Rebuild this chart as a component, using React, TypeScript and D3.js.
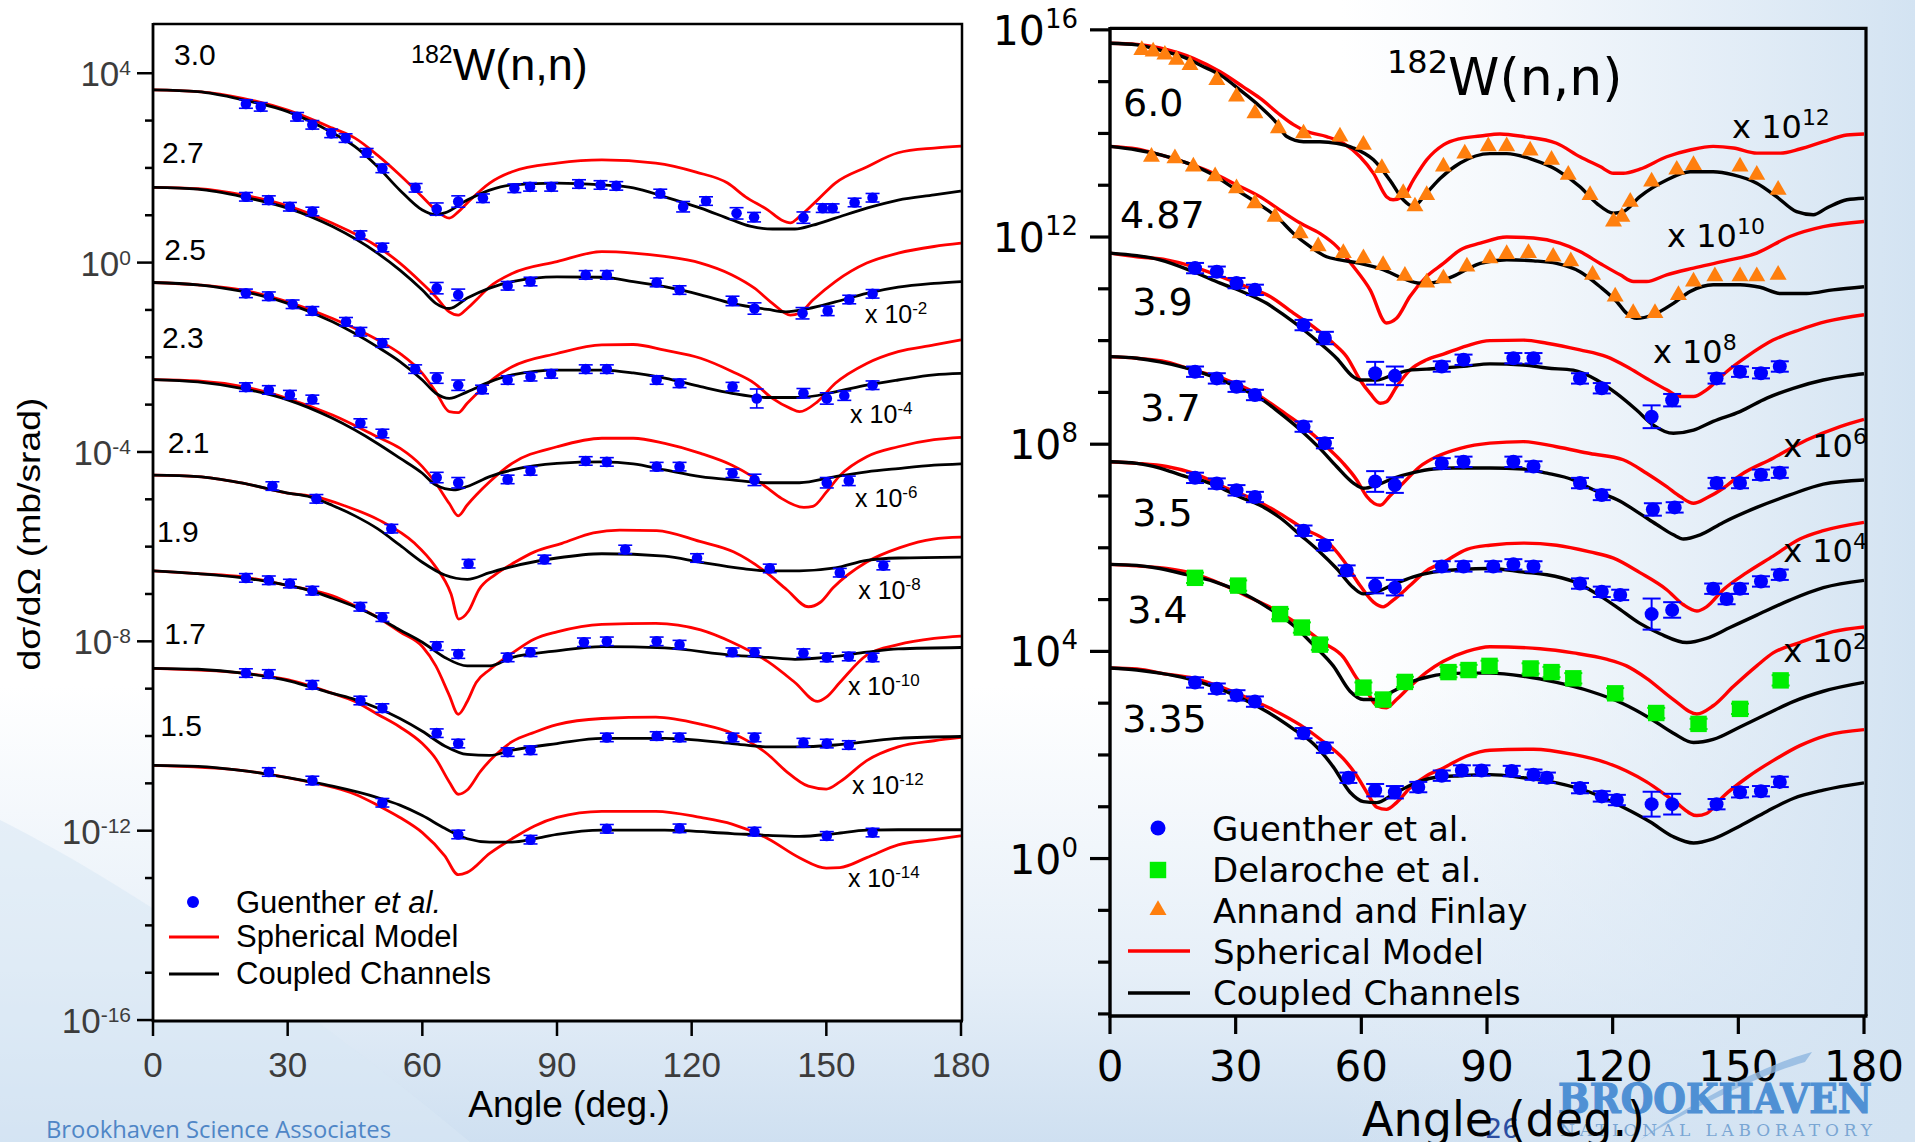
import React from "react";
import * as d3 from "d3";

type P = [number, number];
type D = [number, number] | [number, number, number];

// ---------------- LEFT PANEL DATA: log10 dσ/dΩ (mb/sr), unscaled ----------------
const leftEnergies = ["3.0", "2.7", "2.5", "2.3", "2.1", "1.9", "1.7", "1.5"];
const leftScaleExp = [0, -2, -4, -6, -8, -10, -12, -14];

const cc30: P[] = [[0,3.65],[10,3.61],[20,3.44],[30,3.19],[40,2.74],[45,2.45],[50,2.03],[55,1.53],[60,1.11],[63,1.01],[65,1.05],[70,1.32],[75,1.53],[80,1.64],[90,1.68],[100,1.64],[107,1.58],[114,1.39],[122,1.15],[129,0.9],[133,0.77],[138,0.71],[143,0.71],[147,0.79],[152,0.94],[159,1.15],[166,1.32],[174,1.43],[180,1.51]];
const sph30: P[] = [[0,3.65],[10,3.61],[20,3.47],[30,3.22],[40,2.84],[45,2.63],[50,2.27],[55,1.85],[60,1.39],[63,1.11],[66,0.94],[68,1.07],[70,1.26],[75,1.68],[80,1.92],[90,2.1],[100,2.17],[112,2.1],[121,1.91],[128,1.68],[132,1.39],[137,1.11],[140,0.9],[142,0.84],[144,0.97],[148,1.32],[152,1.68],[159,2.02],[166,2.32],[174,2.42],[180,2.46]];
const exp30: D[] = [[20.7,3.35],[24,3.29],[32.1,3.08],[35.5,2.91],[39.7,2.73],[42.9,2.63],[47.6,2.32],[51.1,1.99],[58.5,1.58],[63.2,1.13,0.13],[68,1.29,0.12],[73.5,1.36],[80.5,1.57],[84,1.6],[88.7,1.6],[94.9,1.66],[99.7,1.64],[103.2,1.62],[113,1.46],[118.1,1.18,0.11],[123.2,1.3],[130,1.04,0.12],[133.9,0.96,0.1],[144.9,0.95,0.12],[149.2,1.15],[151.4,1.15],[156.3,1.27],[160.3,1.37]];

const cc27: P[] = [[0,3.59],[10,3.55],[20,3.39],[30,3.15],[40,2.76],[50,2.2],[55,1.84],[60,1.42],[63,1.14],[66,1.03],[70,1.25],[75,1.46],[80,1.6],[90,1.7],[100,1.69],[107,1.6],[114,1.49],[122,1.32],[129,1.14],[137,1.01],[141,0.96],[146,1.03],[152,1.17],[159,1.35],[166,1.48],[174,1.56],[180,1.6]];
const sph27: P[] = [[0,3.59],[10,3.56],[20,3.43],[30,3.2],[40,2.83],[50,2.34],[55,1.99],[60,1.56],[63,1.28],[66,0.96],[68,0.89],[70,1.03],[72,1.21],[75,1.49],[80,1.77],[90,2.02],[100,2.23],[107,2.2],[114,2.13],[122,1.99],[129,1.74],[134,1.46],[138,1.14],[142,0.89],[144,0.93],[147,1.21],[152,1.6],[159,1.99],[166,2.2],[174,2.34],[180,2.41]];
const exp27: D[] = [[20.7,3.39],[25.8,3.32],[30.5,3.18],[35.5,3.08],[46.2,2.58],[51.1,2.32],[63.2,1.46,0.12],[68,1.32,0.12],[79,1.51],[84.1,1.6],[96.4,1.74],[101.1,1.74],[112.2,1.58],[117.3,1.42],[129.1,1.19,0.1],[134,1.03,0.12],[144.7,0.93,0.12],[150.3,0.98,0.1],[155.1,1.22],[160.3,1.34]];

const cc25: P[] = [[0,3.58],[10,3.53],[20,3.39],[30,3.14],[40,2.75],[50,2.22],[55,1.91],[60,1.52],[63,1.24],[66,1.13],[70,1.27],[75,1.48],[80,1.63],[90,1.73],[100,1.73],[107,1.67],[114,1.56],[122,1.38],[129,1.24],[137,1.15],[144,1.15],[152,1.27],[159,1.41],[166,1.52],[174,1.63],[180,1.66]];
const sph25: P[] = [[0,3.58],[10,3.53],[20,3.42],[30,3.17],[40,2.82],[50,2.37],[55,2.08],[60,1.66],[63,1.27],[66,0.85],[68,0.83],[70,1.03],[73,1.31],[76,1.56],[80,1.8],[90,2.08],[100,2.26],[107,2.27],[114,2.15],[122,1.98],[129,1.7],[134,1.45],[138,1.13],[142,0.92],[144,0.85],[148,1.06],[152,1.45],[159,1.87],[166,2.12],[174,2.26],[180,2.37]];
const exp25: D[] = [[20.7,3.35],[25.8,3.29],[31.1,3.12],[35.5,2.98],[43,2.75],[46.2,2.54],[51.1,2.3],[58.4,1.75],[63.2,1.56,0.11],[68,1.41,0.11],[73.3,1.32],[79,1.52],[84.1,1.59],[88.7,1.65],[96.4,1.75],[101.1,1.75],[112.2,1.52],[117.3,1.45],[129.1,1.38],[134.5,1.13,0.2],[144.9,1.24,0.1],[150.1,1.13,0.12],[154,1.19,0.1],[160.3,1.41]];

const cc23: P[] = [[0,3.53],[10,3.48],[20,3.34],[30,3.1],[40,2.71],[50,2.18],[55,1.87],[60,1.55],[63,1.3],[67,1.2],[70,1.27],[75,1.48],[80,1.62],[90,1.76],[100,1.79],[107,1.75],[114,1.62],[122,1.48],[129,1.41],[137,1.35],[144,1.35],[152,1.48],[159,1.58],[166,1.65],[174,1.72],[180,1.75]];
const sph23: P[] = [[0,3.53],[10,3.5],[20,3.38],[30,3.13],[40,2.78],[50,2.32],[55,2.08],[60,1.69],[63,1.34],[66,0.91],[68,0.65],[70,0.88],[72,1.09],[75,1.37],[80,1.76],[90,2.11],[100,2.29],[107,2.29],[114,2.18],[122,1.97],[129,1.72],[133,1.51],[137,1.23],[140,1.02],[145,0.83],[147,0.85],[150,1.15],[153,1.5],[159,1.9],[166,2.11],[174,2.26],[180,2.31]];
const exp23: D[] = [[20.7,3.37],[25.8,3.31],[30.5,3.21],[35.5,3.11],[46.2,2.61],[51.1,2.39],[63.2,1.46,0.11],[68,1.35,0.11],[79,1.42],[84.1,1.6],[96.4,1.81],[101.1,1.79],[112.2,1.69],[117.3,1.69],[129.1,1.55],[134,1.41,0.12],[150.1,1.35,0.11],[155,1.39,0.1]];

const cc21: P[] = [[0,3.51],[10,3.48],[20,3.34],[30,3.13],[35,3.05],[40,2.87],[45,2.65],[50,2.38],[55,2.03],[60,1.67],[65,1.4],[70,1.31],[75,1.45],[80,1.58],[90,1.76],[100,1.85],[114,1.8],[122,1.67],[131,1.54],[137,1.49],[144,1.49],[152,1.55],[159,1.71],[166,1.76],[180,1.78]];
const sph21: P[] = [[0,3.51],[10,3.48],[20,3.34],[30,3.13],[36.4,3.05],[42.5,2.87],[50.4,2.56],[58.3,2.07],[62.6,1.62],[66.4,1.0],[68.1,0.47],[70.3,0.64],[72.6,1.09],[76.1,1.4],[80.6,1.67],[85,1.89],[91.1,2.07],[98.1,2.29],[104,2.35],[112.2,2.34],[121.8,2.11],[129.3,1.89],[136.7,1.45],[141.2,1.09],[146,0.73],[148.6,0.82],[151.5,1.13],[158.9,1.67],[166.4,1.98],[173.8,2.16],[180,2.2]];
const exp21: D[] = [[26.6,3.28],[36.4,3.01],[53.1,2.38],[70.3,1.64],[87.2,1.73],[105.2,1.94],[121.2,1.76],[137.4,1.54],[153,1.45],[162.7,1.6]];

const cc19: P[] = [[0,3.49],[10,3.43],[20,3.34],[25,3.27],[30,3.18],[35,3.07],[40,2.91],[45,2.73],[50,2.51],[55,2.24],[60,1.98],[65,1.66],[70,1.48],[75,1.48],[80,1.66],[90,1.8],[100,1.89],[114,1.86],[129,1.71],[137,1.66],[143,1.62],[152,1.68],[159,1.77],[166,1.84],[180,1.87]];
const sph19: P[] = [[0,3.49],[10,3.43],[20,3.36],[30,3.18],[40,2.96],[45,2.75],[50,2.51],[55,2.2],[60,1.89],[63,1.48],[66,0.86],[68,0.46],[70,0.73],[72,1.13],[75,1.4],[80,1.75],[85,2.05],[90,2.2],[100,2.36],[112,2.38],[122,2.24],[129,1.98],[137,1.57],[143,1.13],[148,0.73],[150,0.82],[153,1.13],[159,1.71],[166,1.93],[174,2.06],[180,2.11]];
const exp19: D[] = [[20.7,3.34],[25.8,3.29],[30.5,3.22],[35.5,3.07],[46.2,2.73],[51.1,2.51],[63.2,1.9],[68,1.73],[79,1.66],[84.1,1.77],[96,1.98],[101.1,2.0],[112.2,2.0],[117.3,1.93],[129.1,1.77],[134,1.77],[144.9,1.75],[150.1,1.66],[155,1.68],[160.3,1.66]];

const cc17: P[] = [[0,3.43],[10,3.41],[20,3.33],[25,3.26],[30,3.17],[35,3.04],[40,2.9],[45,2.77],[50,2.59],[55,2.37],[60,2.1],[65,1.79],[70,1.61],[75,1.59],[80,1.7],[90,1.84],[100,1.95],[114,1.95],[129,1.84],[137,1.77],[143,1.77],[152,1.81],[159,1.88],[166,1.95],[180,1.99]];
const sph17: P[] = [[0,3.43],[20,3.33],[30,3.19],[40,2.9],[45,2.73],[50,2.46],[55,2.19],[60,1.84],[63,1.52],[66,1.03],[68,0.77],[70,0.86],[73,1.26],[76,1.57],[80,1.88],[85,2.08],[90,2.24],[100,2.37],[112,2.4],[122,2.25],[129,2.06],[137,1.61],[141,1.26],[146,0.94],[150,0.88],[153,1.03],[159,1.48],[166,1.77],[174,1.9],[180,1.97]];
const exp17: D[] = [[20.7,3.33],[25.8,3.31],[35.5,3.08],[46.2,2.75],[51.1,2.59],[63.2,2.06],[68,1.84],[79,1.66],[84.1,1.7],[101.1,1.97],[112.2,2.0],[117.3,1.97],[129.1,1.97],[134,1.97],[144.9,1.86],[150.1,1.84],[155,1.81]];

const cc15: P[] = [[0,3.38],[10,3.36],[20,3.27],[30,3.12],[40,2.94],[50,2.7],[55,2.54],[60,2.32],[65,2.05],[70,1.83],[75,1.76],[80,1.76],[85,1.83],[90,1.92],[100,2.01],[114,2.01],[129,1.94],[137,1.9],[144,1.88],[152,1.94],[159,2.01],[166,2.02],[180,2.02]];
const sph15: P[] = [[0,3.38],[20,3.27],[30,3.12],[40,2.92],[45,2.77],[50,2.54],[55,2.28],[60,1.96],[65,1.47],[68,1.07],[70,1.12],[75,1.52],[80,1.83],[85,2.1],[90,2.28],[100,2.41],[112,2.41],[122,2.28],[129,2.14],[137,1.83],[144,1.43],[150,1.21],[153,1.22],[159,1.43],[166,1.7],[174,1.81],[180,1.89]];
const exp15: D[] = [[25.8,3.24],[35.5,3.06],[51.1,2.59],[68,1.92],[84.1,1.81],[101.1,2.04],[117.3,2.05],[134,1.98],[150.1,1.89],[160.3,1.96]];

// ---------------- RIGHT PANEL DATA ----------------
const rightEnergies = ["6.0", "4.87", "3.9", "3.7", "3.5", "3.4", "3.35"];
const rightScaleExp = [12, 10, 8, 6, 4, 2, 0];

const cc60: P[] = [[0,3.74],[6.4,3.71],[11.9,3.61],[18.3,3.45],[21.5,3.32],[26.3,3.13],[31,2.84],[35.8,2.52],[39.8,2.2],[42.2,1.94],[46.2,1.84],[50.1,1.84],[54.1,1.81],[58.1,1.72],[62.9,1.49],[66.8,1.1],[70,0.72],[72.4,0.59],[75.6,0.85],[78.8,1.13],[83.6,1.43],[90.7,1.61],[94.7,1.61],[101.1,1.49],[106.6,1.3],[112.2,0.97],[116.2,0.65],[120.2,0.46],[122.5,0.49],[126.5,0.78],[132.9,1.1],[138.5,1.26],[144,1.26],[148.8,1.2],[154.4,1.04],[159.1,0.78],[163.9,0.49],[167.9,0.43],[171.1,0.56],[175.9,0.72],[180,0.75]];
const sph60: P[] = [[0,3.74],[6.4,3.72],[11.9,3.65],[19.9,3.45],[26.3,3.19],[31.8,2.9],[35.8,2.68],[40.6,2.36],[43.8,2.17],[46.9,2.04],[51.7,1.94],[55.7,1.81],[59.7,1.55],[62.9,1.23],[66,0.78],[67.6,0.72],[70,0.78],[72.4,1.1],[75.6,1.49],[79.6,1.78],[83.6,1.9],[88.4,1.95],[93.1,1.99],[98.7,1.94],[106.6,1.81],[112.2,1.55],[117,1.36],[120.2,1.23],[122.5,1.23],[126.5,1.31],[132.9,1.55],[138.5,1.68],[144,1.75],[148.8,1.72],[154.4,1.62],[160,1.62],[164.7,1.7],[170.3,1.84],[175.9,1.97],[180,1.99]];
const ann60: P[] = [[7.6,3.61],[10.3,3.58],[13.1,3.52],[15.9,3.42],[19.1,3.32],[25.5,3.03],[30.2,2.71],[34.6,2.39],[40.2,2.1],[46.2,2.0],[54.9,1.94],[60.5,1.78],[64.9,1.33],[70,0.85],[72.8,0.59],[75.6,0.81],[79.6,1.36],[84.7,1.61],[90.3,1.75],[94.7,1.75],[100.3,1.67],[105.4,1.49],[109.4,1.2],[114.6,0.81],[120.2,0.3],[122.2,0.39],[124.2,0.68],[129.3,1.07],[135.3,1.3],[139.3,1.39],[150.4,1.36],[154.4,1.2],[159.5,0.91]];

const cc487: P[] = [[0,3.75],[6.4,3.68],[11.9,3.59],[18.3,3.43],[23.9,3.23],[30.2,2.91],[35.8,2.62],[39.8,2.39],[43.8,2.07],[47.7,1.82],[51.7,1.62],[54.9,1.56],[59.7,1.49],[65.2,1.37],[70,1.2],[74,1.11],[77.2,1.12],[81.9,1.24],[85,1.37],[88.4,1.49],[94.7,1.56],[101.1,1.54],[106.6,1.49],[112.2,1.33],[117,1.04],[121,0.75],[123.3,0.53],[125.7,0.43],[129.7,0.5],[134.5,0.72],[138.5,0.95],[144,1.08],[150.4,1.08],[155.2,1.03],[160,0.91],[166.3,0.91],[172.6,0.98],[180,1.04]];
const sph487: P[] = [[0,3.75],[6.4,3.7],[11.9,3.59],[18.3,3.43],[24.7,3.23],[30.2,3.01],[35.8,2.78],[40.6,2.52],[45.4,2.27],[50.1,2.07],[54.1,1.82],[58.1,1.43],[62.1,0.98],[66,0.34],[68.4,0.43],[71.6,0.85],[75.6,1.24],[79.6,1.49],[83.6,1.75],[88.4,1.88],[94.7,2.0],[101.1,1.98],[107.4,1.88],[112.2,1.72],[117,1.49],[121.8,1.27],[125,1.14],[128.1,1.14],[132.9,1.27],[139.3,1.4],[146.4,1.53],[154.4,1.69],[162.3,2.01],[170.3,2.2],[180,2.3]];
const ann487: P[] = [[9.9,3.55],[15.5,3.52],[19.9,3.36],[25.1,3.17],[30.2,2.94],[34.6,2.65],[39.4,2.39],[45.4,2.07],[49.7,1.82],[55.7,1.69],[60.5,1.59],[65.2,1.46],[70.4,1.25],[75.6,1.12],[79.6,1.2],[85.2,1.43],[90.7,1.59],[94.7,1.67],[99.9,1.69],[105.8,1.62],[110,1.53],[115.2,1.27],[120.6,0.85],[124.9,0.53],[130.1,0.53],[135.7,0.88],[139.3,1.14],[144.4,1.24],[150.4,1.24],[154.4,1.24],[159.5,1.27]];

const cc39: P[] = [[0,3.69],[6.4,3.64],[11.9,3.56],[19.9,3.33],[26.3,3.11],[32.6,2.91],[37.4,2.72],[41.4,2.5],[46.2,2.21],[50.1,1.95],[54.1,1.66],[58.1,1.3],[59.7,1.24],[63.7,1.24],[67.6,1.34],[71.6,1.43],[75.6,1.45],[79.6,1.47],[85.2,1.51],[90.7,1.55],[98.7,1.53],[104.3,1.47],[110.6,1.43],[116.2,1.24],[120.9,0.98],[125.7,0.66],[129.7,0.37],[134.5,0.21],[139.3,0.27],[144,0.44],[150.4,0.63],[156.8,0.89],[163.1,1.08],[170.3,1.24],[175.9,1.32],[180,1.36]];
const sph39: P[] = [[0,3.69],[6.4,3.62],[13.5,3.56],[19.9,3.43],[26.3,3.24],[32.6,3.04],[38.2,2.85],[43.8,2.53],[48.5,2.27],[53.3,1.95],[56.5,1.69],[59.7,1.24],[62.1,0.98],[64.5,0.79],[66,0.82],[68.4,1.11],[71.6,1.43],[75.6,1.63],[79.6,1.74],[85.2,1.9],[90.7,2.0],[98.7,2.01],[104.3,1.95],[112.2,1.82],[118.5,1.69],[123.3,1.5],[128.1,1.27],[132.9,1.05],[136.1,0.92],[139.3,0.92],[142.4,1.05],[147.2,1.4],[152,1.69],[158.3,2.01],[164.7,2.21],[171.1,2.37],[180,2.5]];
const exp39: D[] = [[20.3,3.4],[25.5,3.33],[30.2,3.11],[34.6,2.98],[46.2,2.3],[51.3,2.05,0.12],[63.3,1.37,0.22],[68,1.32,0.18],[79.2,1.5],[84.4,1.63],[96.3,1.66],[101.1,1.66],[112.2,1.27],[117.4,1.08],[129.3,0.53,0.22],[134.2,0.85,0.12],[144.8,1.27],[150.4,1.4],[155.4,1.37],[159.9,1.5]];

const cc37: P[] = [[0,3.69],[6.4,3.66],[11.9,3.59],[18.3,3.47],[24.7,3.3],[31,3.08],[35.8,2.89],[40.6,2.6],[45.4,2.28],[50.1,1.92],[54.1,1.57],[58.1,1.25],[60.5,1.15],[63.7,1.21],[67.6,1.34],[72.4,1.45],[77.2,1.52],[81.9,1.54],[90.7,1.54],[98.7,1.52],[104.3,1.44],[110.6,1.31],[115.4,1.12],[121.8,0.9],[126.5,0.66],[130.5,0.45],[134.5,0.25],[136.9,0.17],[140.9,0.25],[146.4,0.49],[154.4,0.78],[162.3,1.02],[170.3,1.23],[180,1.31]];
const sph37: P[] = [[0,3.69],[6.4,3.66],[13.5,3.59],[19.9,3.43],[27.9,3.24],[34.2,3.01],[40.6,2.66],[46.2,2.34],[51.7,1.95],[55.7,1.63],[58.9,1.31],[61.3,0.99],[64.5,0.82],[66.8,1.0],[70,1.25],[74,1.57],[78,1.76],[83.6,1.92],[90.7,2.02],[98.7,2.05],[106.6,1.95],[114.6,1.82],[122.5,1.7],[128.1,1.44],[132.9,1.18],[136.1,0.99],[139.3,0.86],[142.4,0.96],[146.4,1.15],[150.4,1.4],[158.3,1.73],[166.3,2.08],[174.3,2.34],[180,2.48]];
const exp37: D[] = [[20.3,3.4],[25.5,3.27],[30.2,3.11],[34.6,2.95],[46.2,2.34],[51.3,2.02],[63.3,1.28,0.2],[68,1.21,0.15],[79.2,1.63],[84.4,1.66],[96.3,1.66],[101.1,1.57],[112.2,1.25],[117.4,1.02],[129.6,0.74,0.12],[134.8,0.78,0.1],[144.8,1.25],[150.4,1.25],[155.4,1.41],[159.9,1.45]];

const cc35: P[] = [[0,3.66],[6.4,3.63],[11.9,3.54],[18.3,3.37],[21.5,3.31],[25.5,3.19],[31,2.98],[35.8,2.82],[40.6,2.58],[45.4,2.25],[50.1,1.92],[54.1,1.6],[58.1,1.23],[60.5,1.11],[63.7,1.15],[67.6,1.29],[72.4,1.44],[77.2,1.53],[83.6,1.58],[90.7,1.6],[98.7,1.53],[104.3,1.48],[110.6,1.35],[116.2,1.11],[120.9,0.86],[126.5,0.54],[131.3,0.34],[137.7,0.17],[142.4,0.25],[148,0.46],[154.4,0.7],[162.3,0.99],[170.3,1.23],[180,1.37]];
const sph35: P[] = [[0,3.66],[6.4,3.63],[13.5,3.57],[19.9,3.44],[27.9,3.15],[34.2,2.94],[40.6,2.66],[46.2,2.37],[51.7,2.13],[55.7,1.76],[59.7,1.27],[62.9,0.95],[65.2,0.86],[67.6,0.99],[71.6,1.27],[75.6,1.56],[79.6,1.72],[85.2,1.97],[90.7,2.05],[98.7,2.09],[106.6,2.05],[114.6,1.92],[120.2,1.8],[126.5,1.52],[132.9,1.19],[136.9,0.9],[140.1,0.78],[142.4,0.86],[146.4,1.19],[152,1.52],[158.3,1.84],[164.7,2.17],[170.3,2.33],[180,2.49]];
const exp35: D[] = [[20.3,3.35],[25.5,3.24],[30.2,3.11],[34.6,2.98],[46.2,2.33],[51.3,2.05],[56.5,1.56,0.1],[63.3,1.27,0.15],[68,1.23,0.15],[79.2,1.64],[84.4,1.64],[91.5,1.64],[96.3,1.68],[101.1,1.64],[112.2,1.31],[117.4,1.15],[121.8,1.09,0.1],[129.3,0.72,0.3],[134.2,0.8,0.15],[144,1.21],[147.2,1.01],[150.4,1.21],[155.4,1.35],[159.9,1.48]];

const cc34: P[] = [[0,3.68],[6.4,3.66],[11.9,3.6],[18.3,3.48],[24.7,3.35],[31,3.15],[37.4,2.86],[43.8,2.5],[48.5,2.13],[53.3,1.72],[57.3,1.23],[60.5,1.07],[63.7,1.07],[67.6,1.23],[71.6,1.4],[75.6,1.5],[79.6,1.56],[85.2,1.58],[90.7,1.58],[98.7,1.52],[106.6,1.4],[114.6,1.23],[122.5,0.99],[128.9,0.71],[134.5,0.42],[139.3,0.24],[144,0.3],[150.4,0.54],[156.8,0.79],[163.1,1.03],[170.3,1.23],[180,1.4]];
const sph34: P[] = [[0,3.68],[6.4,3.65],[13.5,3.6],[19.9,3.5],[26.3,3.31],[32.6,3.07],[39,2.82],[45.4,2.5],[50.9,2.17],[55.7,1.89],[58.9,1.48],[61.3,1.23],[63.7,0.95],[66,0.91],[68.4,1.07],[71.6,1.32],[75.6,1.6],[79.6,1.81],[85.2,2.0],[90.7,2.09],[102.7,2.05],[110.6,1.97],[118.5,1.85],[123.3,1.72],[128.1,1.48],[134.5,1.07],[140.1,0.79],[144,0.95],[148.8,1.32],[154.4,1.72],[158.3,1.97],[164.7,2.17],[172.6,2.38],[180,2.47]];
const del34: P[] = [[20.3,3.42],[30.6,3.27],[40.6,2.72],[45.8,2.46],[50.1,2.13],[60.5,1.3],[65.2,1.07],[70.4,1.41],[80.8,1.6],[85.6,1.64],[90.6,1.72],[100.4,1.67],[105.4,1.6],[110.6,1.48],[120.6,1.19],[130.4,0.81],[140.5,0.6],[150.4,0.89],[160.1,1.44]];

const cc335: P[] = [[0,3.68],[6.4,3.64],[11.9,3.58],[18.3,3.48],[24.7,3.32],[31,3.11],[37.4,2.84],[43.8,2.5],[48.5,2.22],[53.3,1.77],[57.3,1.28],[60.5,1.1],[63.7,1.08],[67.6,1.24],[72.4,1.44],[77.2,1.56],[83.6,1.6],[90.7,1.62],[98.7,1.56],[106.6,1.46],[114.6,1.28],[122.5,0.99],[128.9,0.71],[134.5,0.42],[139.3,0.3],[144,0.38],[150.4,0.63],[156.8,0.91],[163.1,1.16],[170.3,1.32],[180,1.46]];
const sph335: P[] = [[0,3.68],[6.4,3.66],[13.5,3.56],[19.9,3.48],[26.3,3.32],[32.6,3.11],[39,2.87],[45.4,2.58],[50.9,2.26],[55.7,1.93],[58.9,1.6],[61.3,1.28],[63.7,0.99],[66,0.95],[68.4,1.08],[71.6,1.36],[75.6,1.6],[79.6,1.75],[85.2,1.98],[90.7,2.09],[101.1,2.11],[110.6,2.01],[118.5,1.85],[123.3,1.69],[128.1,1.48],[134.5,1.12],[140.1,0.83],[142.4,0.87],[146.4,1.2],[152,1.56],[158.3,1.89],[164.7,2.18],[171.1,2.38],[180,2.49]];
const exp335: D[] = [[20.3,3.4],[25.5,3.28],[30.2,3.15],[34.6,3.03],[46.2,2.42],[51.3,2.14],[56.9,1.56,0.1],[63.3,1.32,0.12],[68,1.28,0.12],[73.6,1.38],[79.2,1.6],[84,1.7],[88.7,1.7],[95.9,1.69],[101.1,1.62],[104.3,1.56],[112.2,1.36],[117.4,1.2],[121,1.13],[129.3,1.05,0.24],[134.2,1.05,0.2],[144.8,1.05,0.1],[150.4,1.28],[155.4,1.3],[159.9,1.48]];

const xTicks = [0, 30, 60, 90, 120, 150, 180];

// label anchors in data space [angle, log10 of plotted value]
const leftLabelAt: P[] = [[4.7,4.18],[2,2.1],[2.5,0.06],[2,-1.8],[3.3,-4.02],[0.9,-5.9],[2.5,-8.06],[1.6,-10.01]];
const leftScaleAt: P[] = [[158.6,-1.27],[155.3,-3.39],[156.4,-5.16],[157.1,-7.11],[154.8,-9.13],[155.7,-11.22],[154.8,-13.19]];
const rightLabelAt: P[] = [[3.1,14.33],[2.4,12.18],[5.3,10.5],[7.2,8.45],[5.3,6.43],[4.1,4.54],[2.9,2.44]];
const rightScaleAt: P[] = [[148.5,13.91],[133,11.81],[129.6,9.57],[160.7,7.75],[160.7,5.73],[160.7,3.79]];

const FL = "'Liberation Sans', Arial, Helvetica, sans-serif";
const FR = "'DejaVu Sans', Verdana, sans-serif";
const RED = "#ff0000";
const BLUE = "#0000ff";
const GREEN = "#00ee00";
const ORANGE = "#ff7f0e";

export default function App() {
  const W = 1915, H = 1142;
  const xL = d3.scaleLinear().domain([0, 180]).range([153, 961]);
  const yL = d3.scaleLog().domain([Math.pow(10, -16.02), Math.pow(10, 5.04)]).range([1021, 24]);
  const xR = d3.scaleLinear().domain([0, 180]).range([1110, 1864]);
  const yR = d3.scaleLog().domain([Math.pow(10, -3.04), Math.pow(10, 16.03)]).range([1016, 28.3]);

  const leftSets = [
    { cc: cc30, sph: sph30, exp: exp30 },
    { cc: cc27, sph: sph27, exp: exp27 },
    { cc: cc25, sph: sph25, exp: exp25 },
    { cc: cc23, sph: sph23, exp: exp23 },
    { cc: cc21, sph: sph21, exp: exp21 },
    { cc: cc19, sph: sph19, exp: exp19 },
    { cc: cc17, sph: sph17, exp: exp17 },
    { cc: cc15, sph: sph15, exp: exp15 },
  ].map((s, i) => ({ ...s, E: leftEnergies[i], k: leftScaleExp[i] }));

  const rightSets = [
    { cc: cc60, sph: sph60, kind: "tri", exp: ann60 as D[] },
    { cc: cc487, sph: sph487, kind: "tri", exp: ann487 as D[] },
    { cc: cc39, sph: sph39, kind: "circ", exp: exp39 },
    { cc: cc37, sph: sph37, kind: "circ", exp: exp37 },
    { cc: cc35, sph: sph35, kind: "circ", exp: exp35 },
    { cc: cc34, sph: sph34, kind: "sq", exp: del34 as D[] },
    { cc: cc335, sph: sph335, kind: "circ", exp: exp335 },
  ].map((s, i) => ({ ...s, E: rightEnergies[i], k: rightScaleExp[i] }));

  const mkLine = (x: any, y: any, k: number) =>
    d3.line<P>().x((d) => x(d[0])).y((d) => y(Math.pow(10, d[1] + k))).curve(d3.curveMonotoneX);

  const triPath = d3.symbol().type(d3.symbolTriangle).size(125)() as string;
  const sqPath = d3.symbol().type(d3.symbolSquare).size(270)() as string;

  const leftDecades = d3.range(-16, 5);
  const rightDecades = d3.range(-3, 17);

  return (
    <svg width={W} height={H} viewBox={`0 0 ${W} ${H}`} style={{ display: "block", position: "absolute", left: 0, top: 0 }}>
      <defs>
        <linearGradient id="bgv" x1="0" y1="0" x2="0" y2="1">
          <stop offset="0" stopColor="#ffffff" />
          <stop offset="0.6" stopColor="#ffffff" />
          <stop offset="0.85" stopColor="#e6eff8" />
          <stop offset="1" stopColor="#cfe0f1" />
        </linearGradient>
        <linearGradient id="bgh" x1="0" y1="0" x2="1" y2="0">
          <stop offset="0" stopColor="#dbe8f5" stopOpacity="0" />
          <stop offset="0.7" stopColor="#dbe8f5" stopOpacity="0" />
          <stop offset="1" stopColor="#d3e3f2" stopOpacity="1" />
        </linearGradient>
      </defs>
      <rect x={0} y={0} width={W} height={H} fill="url(#bgv)" />
      <rect x={0} y={0} width={W} height={H} fill="url(#bgh)" />
      <path d="M0,820 C120,880 300,1000 470,1142 L0,1142 Z" fill="#d9e7f4" opacity={0.55} />
      <rect x={153} y={24} width={809} height={997} fill="#ffffff" />

      {/* ================= LEFT PANEL ================= */}
      <g>
        {leftSets.map((s, i) => (
          <g key={"ls" + i}>
            <path d={mkLine(xL, yL, s.k)(s.sph) || ""} fill="none" stroke={RED} strokeWidth={2.8} />
            <path d={mkLine(xL, yL, s.k)(s.cc) || ""} fill="none" stroke="#000" strokeWidth={2.8} />
            {s.exp.map((d, j) => {
              const e = d[2] ?? 0.09;
              const cx = xL(d[0]);
              const cy = yL(Math.pow(10, d[1] + s.k));
              const y1 = yL(Math.pow(10, d[1] + s.k + e));
              const y2 = yL(Math.pow(10, d[1] + s.k - e));
              return (
                <g key={j}>
                  <line x1={cx} x2={cx} y1={y1} y2={y2} stroke={BLUE} strokeWidth={1.6} />
                  <line x1={cx - 7} x2={cx + 7} y1={y1} y2={y1} stroke={BLUE} strokeWidth={1.6} />
                  <line x1={cx - 7} x2={cx + 7} y1={y2} y2={y2} stroke={BLUE} strokeWidth={1.6} />
                  <circle cx={cx} cy={cy} r={5.3} fill={BLUE} />
                </g>
              );
            })}
          </g>
        ))}
        <path d="M153,24 L962,24 L962,1021" fill="none" stroke="#000" strokeWidth={2.5} />
        <line x1={153} x2={153} y1={23} y2={1022} stroke="#000" strokeWidth={2.8} />
        <line x1={152} x2={963} y1={1021} y2={1021} stroke="#000" strokeWidth={2.8} />
        {leftDecades.map((e) => {
          const y = yL(Math.pow(10, e));
          const major = e % 4 === 0;
          return (
            <g key={"lt" + e}>
              <line x1={major ? 137 : 145} x2={153} y1={y} y2={y} stroke="#000" strokeWidth={2.5} />
              {major && (
                <text x={131} y={y + 13} textAnchor="end" fontFamily={FL} fontSize={35} fill="#3c3c3c">
                  10<tspan fontSize={21} dy={-11}>{String(e)}</tspan>
                </text>
              )}
            </g>
          );
        })}
        {xTicks.map((t) => (
          <g key={"lx" + t}>
            <line x1={xL(t)} x2={xL(t)} y1={1021} y2={1036} stroke="#000" strokeWidth={2.5} />
            <text x={xL(t)} y={1077} textAnchor="middle" fontFamily={FL} fontSize={35} fill="#3c3c3c">{t}</text>
          </g>
        ))}
        <text x={569} y={1117} textAnchor="middle" fontFamily={FL} fontSize={37} fill="#000">Angle (deg.)</text>
        <text transform="translate(40,534) rotate(-90)" textAnchor="middle" fontFamily={FL} fontSize={32} fill="#000" textLength={273} lengthAdjust="spacingAndGlyphs">dσ/dΩ (mb/srad)</text>
        <text x={411} y={80} fontFamily={FL} fill="#000">
          <tspan fontSize={25} dy={-17}>182</tspan>
          <tspan fontSize={45} dy={17}>W(n,n)</tspan>
        </text>
        {leftSets.map((s, i) => (
          <text key={"le" + i} x={xL(leftLabelAt[i][0])} y={yL(Math.pow(10, leftLabelAt[i][1]))} fontFamily={FL} fontSize={30} fill="#000">{s.E}</text>
        ))}
        {leftSets.slice(1).map((s, i) => (
          <text key={"lsc" + i} x={xL(leftScaleAt[i][0])} y={yL(Math.pow(10, leftScaleAt[i][1]))} fontFamily={FL} fontSize={25} fill="#000">
            x 10<tspan fontSize={17} dy={-9}>{String(s.k)}</tspan>
          </text>
        ))}
        <circle cx={193} cy={902} r={6} fill={BLUE} />
        <text x={236} y={913} fontFamily={FL} fontSize={31} fill="#000">Guenther <tspan fontStyle="italic">et al.</tspan></text>
        <line x1={169} x2={219} y1={937} y2={937} stroke={RED} strokeWidth={3} />
        <text x={236} y={947} fontFamily={FL} fontSize={31} fill="#000">Spherical Model</text>
        <line x1={169} x2={219} y1={974} y2={974} stroke="#000" strokeWidth={3} />
        <text x={236} y={984} fontFamily={FL} fontSize={31} fill="#000">Coupled Channels</text>
      </g>

      {/* ================= RIGHT PANEL ================= */}
      <g>
        {rightSets.map((s, i) => (
          <g key={"rs" + i}>
            <path d={mkLine(xR, yR, s.k)(s.sph) || ""} fill="none" stroke={RED} strokeWidth={3.4} />
            <path d={mkLine(xR, yR, s.k)(s.cc) || ""} fill="none" stroke="#000" strokeWidth={3.4} />
            {s.exp.map((d, j) => {
              const cx = xR(d[0]);
              const cy = yR(Math.pow(10, d[1] + s.k));
              if (s.kind === "tri") {
                return <path key={j} d={triPath} transform={`translate(${cx},${cy})`} fill={ORANGE} />;
              }
              const e = d[2] ?? 0.1;
              const y1 = yR(Math.pow(10, d[1] + s.k + e));
              const y2 = yR(Math.pow(10, d[1] + s.k - e));
              const col = s.kind === "sq" ? GREEN : BLUE;
              return (
                <g key={j}>
                  <line x1={cx} x2={cx} y1={y1} y2={y2} stroke={col} strokeWidth={2} />
                  <line x1={cx - 9} x2={cx + 9} y1={y1} y2={y1} stroke={col} strokeWidth={2} />
                  <line x1={cx - 9} x2={cx + 9} y1={y2} y2={y2} stroke={col} strokeWidth={2} />
                  {s.kind === "sq" ? (
                    <path d={sqPath} transform={`translate(${cx},${cy})`} fill={GREEN} />
                  ) : (
                    <circle cx={cx} cy={cy} r={7} fill={BLUE} />
                  )}
                </g>
              );
            })}
          </g>
        ))}
        <path d="M1110,28.3 L1866,28.3 L1866,1016" fill="none" stroke="#000" strokeWidth={3.2} />
        <line x1={1110} x2={1110} y1={27} y2={1017.5} stroke="#000" strokeWidth={3.4} />
        <line x1={1108.5} x2={1867.5} y1={1016} y2={1016} stroke="#000" strokeWidth={3.4} />
        {rightDecades.map((e) => {
          const y = yR(Math.pow(10, e));
          const major = e % 4 === 0;
          return (
            <g key={"rt" + e}>
              <line x1={major ? 1090 : 1098} x2={1110} y1={y} y2={y} stroke="#000" strokeWidth={3.2} />
              {major && (
                <text x={1078} y={y + 15} textAnchor="end" fontFamily={FR} fontSize={41} fill="#000">
                  10<tspan fontSize={26} dy={-17}>{String(e)}</tspan>
                </text>
              )}
            </g>
          );
        })}
        {xTicks.map((t) => (
          <g key={"rx" + t}>
            <line x1={xR(t)} x2={xR(t)} y1={1016} y2={1034} stroke="#000" strokeWidth={3.2} />
            <text x={xR(t)} y={1081} textAnchor="middle" fontFamily={FR} fontSize={42} fill="#000">{t}</text>
          </g>
        ))}
        <text x={1387} y={95} fontFamily={FR} fill="#000">
          <tspan fontSize={32} dy={-22}>182</tspan>
          <tspan fontSize={52} dy={22}>W(n,n)</tspan>
        </text>
        {rightSets.map((s, i) => (
          <text key={"re" + i} x={xR(rightLabelAt[i][0])} y={yR(Math.pow(10, rightLabelAt[i][1]))} fontFamily={FR} fontSize={38} fill="#000">{s.E}</text>
        ))}
        {rightSets.slice(0, 6).map((s, i) => (
          <text key={"rsc" + i} x={xR(rightScaleAt[i][0])} y={yR(Math.pow(10, rightScaleAt[i][1]))} fontFamily={FR} fontSize={32} fill="#000">
            x 10<tspan fontSize={22} dy={-13}>{String(s.k)}</tspan>
          </text>
        ))}
        <circle cx={1158} cy={828} r={7.5} fill={BLUE} />
        <text x={1212} y={841} fontFamily={FR} fontSize={34} fill="#000">Guenther et al.</text>
        <path d={sqPath} transform="translate(1158,870)" fill={GREEN} />
        <text x={1212} y={882} fontFamily={FR} fontSize={34} fill="#000">Delaroche et al.</text>
        <path d={triPath} transform="translate(1158,910)" fill={ORANGE} />
        <text x={1213} y={923} fontFamily={FR} fontSize={34} fill="#000">Annand and Finlay</text>
        <line x1={1128} x2={1190} y1={951} y2={951} stroke={RED} strokeWidth={3.4} />
        <text x={1213} y={964} fontFamily={FR} fontSize={34} fill="#000">Spherical Model</text>
        <line x1={1128} x2={1190} y1={993} y2={993} stroke="#000" strokeWidth={3.4} />
        <text x={1213} y={1005} fontFamily={FR} fontSize={34} fill="#000">Coupled Channels</text>
      </g>

      {/* slide decorations */}
      <text x={46} y={1138} fontFamily="'Open Sans', 'DejaVu Sans', sans-serif" fontSize={23} fill="#4f86c6" textLength={345} lengthAdjust="spacingAndGlyphs">Brookhaven Science Associates</text>
      <path d="M1812,1052 C1780,1060 1700,1095 1640,1140 C1705,1100 1770,1072 1805,1062 Z" fill="#8fb7e0" opacity={0.8} />
      <text x={1558} y={1113} fontFamily="'DejaVu Serif', serif" fontWeight={900} fontSize={41} fill="#4f90d4" stroke="#4f90d4" strokeWidth={1.2} textLength={314} lengthAdjust="spacingAndGlyphs">BROOKHAVEN</text>
      <text x={1560} y={1136} fontFamily="'DejaVu Serif', serif" fontSize={17} fill="#7aa6d3" textLength={312} lengthAdjust="spacing">NATIONAL LABORATORY</text>
      <text x={1485} y={1138} fontFamily="'DejaVu Sans', sans-serif" fontSize={27} fill="#2b4ea2">26</text>
      <text x={1362} y={1136} fontFamily={FR} fontSize={48} fill="#000" textLength={283} lengthAdjust="spacingAndGlyphs">Angle (deg.)</text>
    </svg>
  );
}
